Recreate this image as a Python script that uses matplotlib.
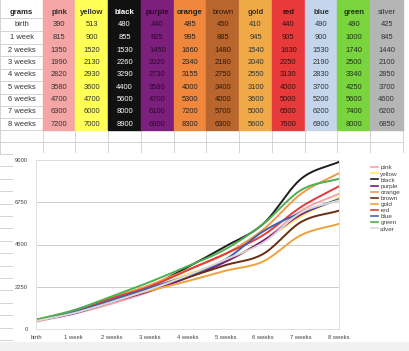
import numpy as np
import matplotlib.pyplot as plt
from matplotlib.patches import Rectangle
from matplotlib.lines import Line2D

# data (grams)
stages = ['birth', '1 week', '2 weeks', '3 weeks', '4 weeks', '5 weeks',
          '6 weeks', '7 weeks', '8 weeks']
names = ['pink', 'yellow', 'black', 'purple', 'orange', 'brown', 'gold',
         'red', 'blue', 'green', 'silver']
pink = [390, 815, 1350, 1990, 2820, 3580, 4700, 6300, 7200]
yellow = [513, 900, 1520, 2130, 2930, 3600, 4700, 6000, 7000]
black = [480, 855, 1530, 2260, 3290, 4400, 5600, 8000, 8900]
purple = [440, 825, 1450, 2020, 2730, 3580, 4700, 6100, 6900]
orange = [485, 995, 1660, 2340, 3155, 4000, 5300, 7200, 8300]
brown = [450, 885, 1480, 2180, 2750, 3400, 4000, 5700, 6300]
gold = [410, 945, 1540, 2040, 2550, 3100, 3600, 5000, 5600]
red = [440, 905, 1630, 2250, 3130, 4000, 5000, 6500, 7600]
blue = [490, 900, 1530, 2190, 2830, 3700, 5200, 6200, 6900]
green = [490, 1000, 1740, 2500, 3340, 4250, 5600, 7400, 8000]
silver = [425, 845, 1440, 2100, 2850, 3700, 4600, 6200, 6850]
series = [pink, yellow, black, purple, orange, brown, gold, red, blue, green, silver]
yticks = [0, 2250, 4500, 6750, 9000]

# styles
cell_fill = ['#F4A5A5', '#FFFF55', '#111111', '#7D1F7C', '#F0873C', '#B8652E',
             '#EFA946', '#E8393B', '#C5D6EC', '#7AD43E', '#B5B5B5']
cell_text = ['#333333', '#333333', '#FFFFFF', '#2A0A2A', '#222222', '#2A1A10',
             '#333333', '#331010', '#333333', '#1A3310', '#333333']
head_bold = [True, True, True, True, True, False, True, True, True, True, False]
line_col = ['#F4A3AA', '#FFEA6A', '#1E1E1E', '#7A1A7D', '#F39A4A', '#6B2C12',
            '#EFA23C', '#E23B3B', '#3F63A8', '#4CAF50', '#D9D9D9']

W, H = 409, 351
fig = plt.figure(figsize=(W / 100, H / 100), dpi=100)
fig.patch.set_facecolor('white')
plt.rcParams['font.family'] = ['Liberation Sans', 'DejaVu Sans']

# spreadsheet background (pixel coordinates)
bg = fig.add_axes([0, 0, 1, 1])
bg.set_xlim(0, W)
bg.set_ylim(H, 0)
bg.axis('off')

grid = '#D4D4D4'
col_x = [0, 42.7] + [42.7 + 32.75 * (i + 1) for i in range(11)]
row_y = [0, 17.5, 30.5, 43.5, 56, 68.5, 81, 93.5, 105.5, 118, 130, 142.3, 154]
text_y = [12, 24, 37.5, 50, 62.3, 74.7, 87.2, 99.3, 111.7, 124]

for yy in row_y[1:]:
    bg.plot([0, col_x[-1]], [yy, yy], color=grid, lw=0.7, zorder=1)
for xx in col_x:
    bg.plot([xx, xx], [0, 154], color=grid, lw=0.7, zorder=1)

for j, name in enumerate(names):
    x0, x1 = col_x[j + 1], col_x[j + 2]
    bg.add_patch(Rectangle((x0, 0), x1 - x0, row_y[10], color=cell_fill[j], zorder=2))
    cx = (x0 + x1) / 2
    bg.text(cx, text_y[0], name, ha='center', va='center', fontsize=5.6,
            fontweight='bold' if head_bold[j] else 'normal', color=cell_text[j], zorder=3)
    for i, v in enumerate(series[j]):
        bg.text(cx, text_y[i + 1], str(v), ha='center', va='center', fontsize=5.4,
                color=cell_text[j], zorder=3)

bg.text(21.5, text_y[0], 'grams', ha='center', va='center', fontsize=5.6,
        fontweight='bold', color='#222222', zorder=3)
for i, s in enumerate(stages):
    bg.text(21.5, text_y[i + 1], s, ha='center', va='center', fontsize=5.4,
            color='#333333', zorder=3)

# left strip row lines behind the chart
for k in range(16):
    yy = 154 + 12.4 * k
    bg.plot([0, 13], [yy, yy], color=grid, lw=0.7, zorder=1)

# chart box
bg.add_patch(Rectangle((13, 153), 394, 189, facecolor='white', edgecolor='none', zorder=4))
bg.add_patch(Rectangle((0, 342), W, 9, facecolor='#F1F1F1', edgecolor='none', zorder=4))


def smooth(y, n=30):
    y = np.asarray(y, float)
    m = np.gradient(y)
    xs, ys = [], []
    t = np.linspace(0, 1, n, endpoint=False)
    for i in range(len(y) - 1):
        h00 = 2 * t**3 - 3 * t**2 + 1
        h10 = t**3 - 2 * t**2 + t
        h01 = -2 * t**3 + 3 * t**2
        h11 = t**3 - t**2
        xs.append(i + t)
        ys.append(h00 * y[i] + h10 * m[i] + h01 * y[i + 1] + h11 * m[i + 1])
    xs.append([len(y) - 1])
    ys.append([y[-1]])
    return np.concatenate(xs), np.concatenate(ys)


ax = fig.add_axes([36 / W, (H - 329) / H, (339 - 36) / W, (329 - 160) / H])
ax.set_facecolor('white')
handles = []
for j, name in enumerate(names):
    xs, ys = smooth(series[j])
    ax.plot(xs, ys, color=line_col[j], lw=1.4, solid_capstyle='round')
    handles.append(Line2D([], [], color=line_col[j], lw=1.2, label=name))

ax.set_xlim(0, len(stages) - 1)
ax.set_ylim(0, 9000)
ax.set_xticks(range(len(stages)))
ax.set_xticklabels(stages)
ax.set_yticks(yticks)
ax.set_yticklabels([str(v) for v in yticks])
ax.tick_params(length=0, labelsize=4.2, labelcolor='#444444')
ax.tick_params(axis='y', pad=6)
ax.tick_params(axis='x', pad=4)
ax.grid(axis='y', color='#CCCCCC', lw=0.7)
ax.set_axisbelow(True)
for sp in ax.spines.values():
    sp.set_color('#DDDDDD')
    sp.set_linewidth(0.7)

fig.legend(handles=handles, loc='upper left', bbox_to_anchor=(371 / W, 1 - 165 / H),
           frameon=False, fontsize=4.6, handlelength=1.1, handletextpad=0.35,
           labelspacing=0.1, borderpad=0, borderaxespad=0, labelcolor='#444444')

fig.savefig('out.png', dpi=100, facecolor='white')
